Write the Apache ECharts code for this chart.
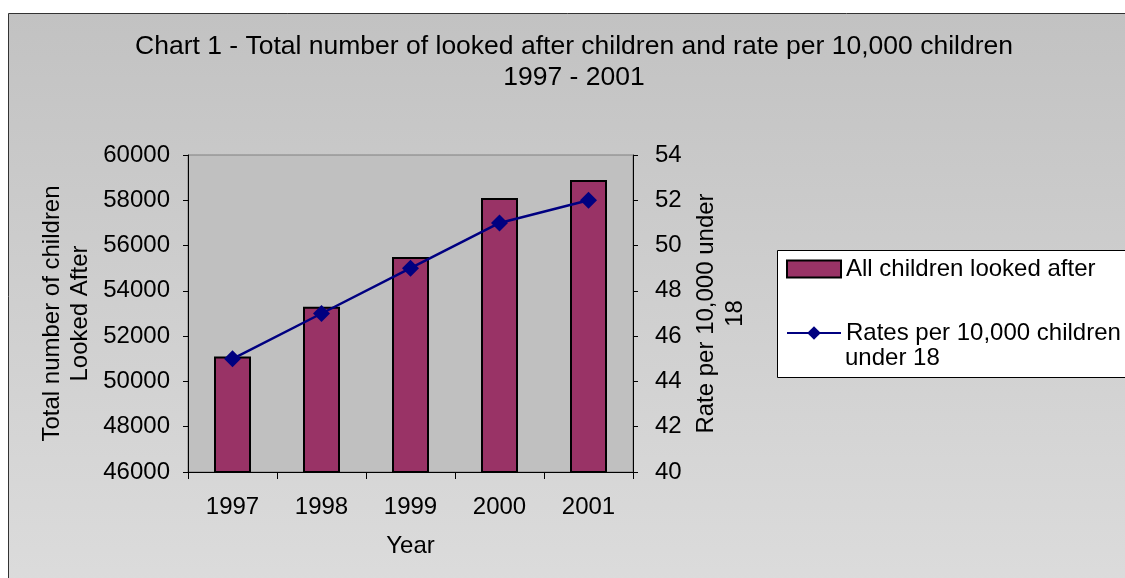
<!DOCTYPE html>
<html>
<head>
<meta charset="utf-8">
<script src="https://cdn.jsdelivr.net/npm/echarts@6/dist/echarts.min.js"></script>
<style>html,body{margin:0;padding:0;background:#fff}#c{width:1125px;height:578px}</style>
</head>
<body>
<div id="c"></div>
<script>
const years = ['1997', '1998', '1999', '2000', '2001'];
const totalLookedAfter = [51100, 53300, 55500, 58100, 58900];
const ratePer10000 = [45, 47, 49, 51, 52];
const titleLines = ['Chart 1 - Total number of looked after children and rate per 10,000 children', '1997 - 2001'];
const barName = 'All children looked after';
const lineName = 'Rates per 10,000 children under 18';

const FONT = '"Liberation Sans", Arial, sans-serif';
const chart = echarts.init(document.getElementById('c'), null, {renderer: 'canvas'});
chart.setOption({
  backgroundColor: '#ffffff',
  animation: false,
  graphic: [
    {type: 'rect', z: -10, shape: {x: 8.5, y: 13.5, width: 1130, height: 580},
     style: {fill: new echarts.graphic.LinearGradient(0, 0, 0, 1, [{offset: 0, color: '#c2c2c2'}, {offset: 1, color: '#dcdcdc'}]), stroke: '#333', lineWidth: 1}},
    {type: 'text', x: 574, y: 31, z: 10,
     style: {text: titleLines.join('\n'), font: '26.5px ' + FONT, fill: '#000', align: 'center', lineHeight: 31}},
    {type: 'rect', z: 5, shape: {x: 777.5, y: 250.5, width: 400, height: 127},
     style: {fill: '#ffffff', stroke: '#000', lineWidth: 1}},
    {type: 'text', x: 845, y: 346, z: 10,
     style: {text: 'under 18', font: '24px ' + FONT, fill: '#000'}}
  ],
  legend: {
    orient: 'vertical', left: 786, top: 256, z: 10, padding: 0,
    itemWidth: 54, itemHeight: 17, itemGap: 38,
    textStyle: {fontFamily: FONT, fontSize: 24, color: '#000', lineHeight: 26},
    formatter: function (n) { return n === lineName ? 'Rates per 10,000 children' : n; },
    data: [{name: barName, icon: 'rect'}, {name: lineName, lineStyle: {width: 2}}]
  },
  grid: {left: 188, right: 492, top: 155, bottom: 106, show: true, backgroundColor: '#c0c0c0', borderColor: '#808080', borderWidth: 1},
  xAxis: {
    type: 'category', data: years, name: 'Year', nameLocation: 'middle', nameGap: 62,
    nameTextStyle: {fontFamily: FONT, fontSize: 24, color: '#000'},
    axisLine: {lineStyle: {color: '#000', width: 1}},
    axisTick: {show: true, interval: 0, length: 7, lineStyle: {color: '#000'}},
    axisLabel: {fontFamily: FONT, fontSize: 24, color: '#000', margin: 23}
  },
  yAxis: [
    {type: 'value', min: 46000, max: 60000, interval: 2000, position: 'left',
     name: 'Total number of children\nLooked After', nameLocation: 'middle', nameGap: 94, nameRotate: 90,
     nameTextStyle: {fontFamily: FONT, fontSize: 24, color: '#000', lineHeight: 28},
     axisLine: {show: true, lineStyle: {color: '#000'}},
     axisTick: {show: true, length: 5, lineStyle: {color: '#000'}},
     splitLine: {show: false},
     axisLabel: {fontFamily: FONT, fontSize: 24, color: '#000', margin: 18, formatter: function (v) { return String(v); }}},
    {type: 'value', min: 40, max: 54, interval: 2, position: 'right',
     name: 'Rate per 10,000 under\n18', nameLocation: 'middle', nameGap: 59, nameRotate: 90,
     nameTextStyle: {fontFamily: FONT, fontSize: 24, color: '#000', lineHeight: 29, align: 'center'},
     axisLine: {show: true, lineStyle: {color: '#000'}},
     axisTick: {show: true, length: 5, lineStyle: {color: '#000'}},
     splitLine: {show: false},
     axisLabel: {fontFamily: FONT, fontSize: 24, color: '#000', margin: 22}}
  ],
  series: [
    {name: barName, type: 'bar', data: totalLookedAfter, barWidth: 37, yAxisIndex: 0,
     itemStyle: {color: '#993366', borderColor: '#000', borderWidth: 2}},
    {name: lineName, type: 'line', data: ratePer10000, yAxisIndex: 1,
     symbol: 'diamond', symbolSize: 17, z: 5,
     itemStyle: {color: '#000080'}, lineStyle: {color: '#000080', width: 2.5}}
  ]
});
</script>
</body>
</html>
